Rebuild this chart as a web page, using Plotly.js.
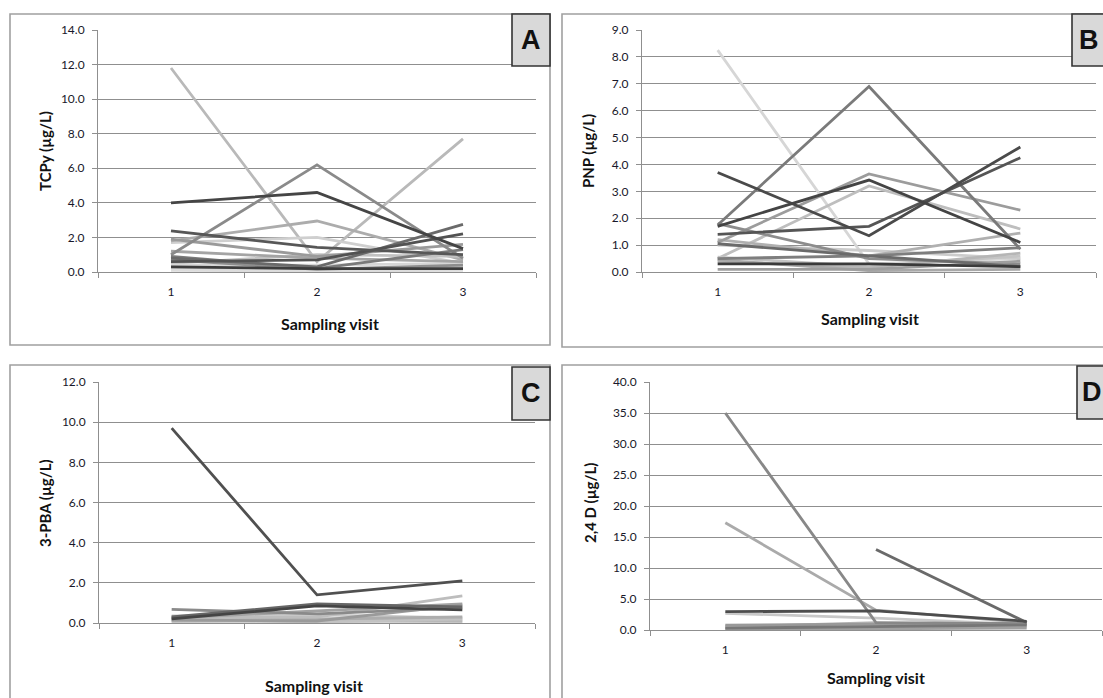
<!DOCTYPE html>
<html>
<head>
<meta charset="utf-8">
<script src="https://cdn.plot.ly/plotly-3.0.1.min.js"></script>
<style>
html,body{margin:0;padding:0;background:#fff;}
#chart{width:1103px;height:698px;}
</style>
</head>
<body>
<div id="chart"></div>
<script>
// ---------------- DATA ----------------
const visits = ['1', '2', '3'];

// Panel A: TCPy (µg/L), one row per participant (visit 1, 2, 3)
const tcpySeries = [
  [11.8, 0.6, 7.7],
  [1.7, 2.0, 0.5],
  [1.8, 2.95, 0.7],
  [0.5, 1.0, 0.9],
  [0.2, 0.1, 0.3],
  [0.1, 0.05, 0.1],
  [0.4, 0.4, 0.5],
  [1.2, 0.8, 0.6],
  [1.9, 0.9, 1.6],
  [1.0, 6.2, 0.8],
  [0.9, 0.2, 1.3],
  [0.7, 0.15, 0.4],
  [0.8, 0.3, 2.75],
  [0.6, 0.7, 2.2],
  [2.38, 1.42, 1.0],
  [0.3, 0.2, 0.2],
  [4.0, 4.6, 1.35]
];
const tcpyColors = ['#b9b9b9','#cfcfcf','#acacac','#c2c2c2','#d2d2d2','#dcdcdc','#d6d6d6','#a4a4a4','#9a9a9a',
                    '#8a8a8a','#7a7a7a','#8e8e8e','#6a6a6a','#525252','#575757','#3c3c3c','#454545'];

// Panel B: PNP (µg/L)
const pnpSeries = [
  [8.25, 0.3, 0.5],
  [0.5, 3.2, 1.6],
  [1.0, 0.8, 0.5],
  [0.55, 0.2, 0.6],
  [1.2, 0.6, 1.45],
  [0.4, 0.15, 0.7],
  [0.45, 0.05, 0.1],
  [1.1, 3.65, 2.3],
  [1.8, 0.5, 0.3],
  [0.1, 0.1, 0.4],
  [1.75, 6.9, 0.85],
  [0.5, 0.6, 0.9],
  [1.05, 0.6, 0.2],
  [0.3, 0.3, 0.2],
  [1.4, 1.7, 4.25],
  [3.7, 1.35, 4.65],
  [1.7, 3.42, 1.1]
];
const pnpColors = ['#d6d6d6','#bebebe','#cccccc','#c4c4c4','#b0b0b0','#b6b6b6','#a8a8a8','#9c9c9c','#8c8c8c',
                   '#9e9e9e','#7a7a7a','#7e7e7e','#6a6a6a','#3a3a3a','#555555','#4a4a4a','#444444'];

// Panel C: 3-PBA (µg/L)
const pbaSeries = [
  [0.05, 0.05, 0.05],
  [0.35, 0.4, 0.25],
  [0.1, 0.15, 0.1],
  [0.2, 0.05, 0.2],
  [0.3, 0.2, 0.3],
  [0.25, 0.3, 1.35],
  [0.25, 0.6, 0.95],
  [0.15, 0.1, 0.9],
  [0.68, 0.45, 0.75],
  [0.3, 0.95, 0.8],
  [0.2, 0.85, 0.65],
  [9.7, 1.4, 2.1]
];
const pbaColors = ['#d0d0d0','#cbcbcb','#b8b8b8','#c2c2c2','#adadad','#bdbdbd','#a2a2a2','#9a9a9a',
                   '#8a8a8a','#666666','#444444','#505050'];

// Panel D: 2,4 D (µg/L) — one participant has no visit-1 value
const dSeries = [
  [0.6, 0.4, 0.5],
  [2.7, 1.9, 0.9],
  [0.5, 1.2, 0.7],
  [0.1, 0.2, 0.3],
  [0.8, 0.9, 1.1],
  [17.3, 3.2, 1.2],
  [35.0, 1.2, 1.0],
  [0.3, 0.5, 0.8],
  [null, 13.0, 1.2],
  [2.95, 3.1, 1.4]
];
const dColors = ['#cccccc','#c8c8c8','#b5b5b5','#a0a0a0','#999999','#aaaaaa','#888888','#777777','#6a6a6a','#4d4d4d'];

const yTitles = ['TCPy (µg/L)', 'PNP (µg/L)', '3-PBA (µg/L)', '2,4 D (µg/L)'];
const xTitle = 'Sampling visit';
const panelLetters = ['A', 'B', 'C', 'D'];
const yMax = [14, 9, 12, 40];
const yStep = [2, 1, 2, 5];

// ---------------- LAYOUT HELPERS ----------------
const W = 1103, H = 698;
const px = v => v / W;
const py = v => 1 - v / H;

const panels = [
  {series: tcpySeries, colors: tcpyColors, xd: [98, 536], yd: [30, 272],
   box: [10, 14, 550, 345], lab: [512, 14, 550, 66], labX: 531, labY: 40,
   yt: [45, 151], xt: [330, 323]},
  {series: pnpSeries, colors: pnpColors, xd: [642, 1096], yd: [30, 272],
   box: [562, 14, 1120, 347], lab: [1072, 14, 1130, 66], labX: 1089, labY: 40,
   yt: [588, 151], xt: [870, 318]},
  {series: pbaSeries, colors: pbaColors, xd: [99, 535], yd: [382, 623],
   box: [10, 365, 550, 720], lab: [512, 367, 550, 420], labX: 531, labY: 393,
   yt: [45, 503], xt: [314, 685]},
  {series: dSeries, colors: dColors, xd: [650, 1102], yd: [382, 630],
   box: [562, 365, 1120, 720], lab: [1077, 366, 1130, 419], labX: 1092, labY: 392,
   yt: [590, 503], xt: [876, 677]}
];

const traces = [];
const layout = {
  width: W, height: H,
  margin: {l: 0, r: 0, t: 0, b: 0},
  paper_bgcolor: '#ffffff',
  plot_bgcolor: '#ffffff',
  showlegend: false,
  hovermode: false,
  font: {family: 'Lato, "Open Sans", sans-serif', color: '#1c1c2a'},
  shapes: [],
  annotations: []
};

const tickFont = {family: 'Lato, sans-serif', size: 12, color: '#18182a'};
const gridCol = '#8f8f8f';

panels.forEach((p, i) => {
  const n = i + 1;
  const xa = 'x' + (n === 1 ? '' : n);
  const ya = 'y' + (n === 1 ? '' : n);
  p.series.forEach((vals, k) => {
    traces.push({
      type: 'scatter', mode: 'lines',
      x: visits, y: vals,
      xaxis: xa, yaxis: ya,
      connectgaps: false,
      line: {color: p.colors[k], width: 2.8},
      hoverinfo: 'skip'
    });
  });
  layout['xaxis' + (n === 1 ? '' : n)] = {
    domain: [px(p.xd[0]), px(p.xd[1])],
    anchor: ya,
    type: 'category',
    range: [-0.5, 2.5],
    tickson: 'boundaries',
    ticks: 'outside', ticklen: 5, tickwidth: 1, tickcolor: gridCol,
    showline: true, linecolor: gridCol, linewidth: 1,
    showgrid: false, zeroline: false,
    tickfont: tickFont,
    ticklabelstandoff: 9,
    fixedrange: true
  };
  layout['yaxis' + (n === 1 ? '' : n)] = {
    domain: [py(p.yd[1]), py(p.yd[0])],
    anchor: xa,
    range: [0, yMax[i]],
    tickmode: 'linear', tick0: 0, dtick: yStep[i],
    tickformat: '.1f',
    ticks: 'outside', ticklen: 5, tickwidth: 1, tickcolor: gridCol,
    showline: true, linecolor: gridCol, linewidth: 1,
    showgrid: true, gridcolor: gridCol, gridwidth: 1,
    zeroline: false,
    tickfont: tickFont,
    ticklabelstandoff: 5,
    fixedrange: true
  };
  // panel frame
  layout.shapes.push({type: 'rect', xref: 'paper', yref: 'paper', layer: 'below',
    x0: px(p.box[0]), x1: px(p.box[2]), y0: py(p.box[3]), y1: py(p.box[1]),
    line: {color: '#a0a0a0', width: 1.6}, fillcolor: 'rgba(0,0,0,0)'});
  // letter box
  layout.shapes.push({type: 'rect', xref: 'paper', yref: 'paper', layer: 'above',
    x0: px(p.lab[0]), x1: px(p.lab[2]), y0: py(p.lab[3]), y1: py(p.lab[1]),
    line: {color: '#333333', width: 1.6}, fillcolor: '#d9d9d9'});
  layout.annotations.push({xref: 'paper', yref: 'paper', x: px(p.labX), y: py(p.labY),
    text: panelLetters[i], showarrow: false, xanchor: 'center', yanchor: 'middle',
    font: {family: '"Liberation Sans", Arial, sans-serif', size: 27, color: '#111111', weight: 'bold'}});
  // axis titles
  layout.annotations.push({xref: 'paper', yref: 'paper', x: px(p.yt[0]), y: py(p.yt[1]),
    text: '<b>' + yTitles[i] + '</b>', showarrow: false, textangle: -90,
    xanchor: 'center', yanchor: 'middle',
    font: {family: 'Lato, sans-serif', size: 15, color: '#111111'}});
  layout.annotations.push({xref: 'paper', yref: 'paper', x: px(p.xt[0]), y: py(p.xt[1]),
    text: '<b>' + xTitle + '</b>', showarrow: false,
    xanchor: 'center', yanchor: 'middle',
    font: {family: 'Lato, sans-serif', size: 16, color: '#111111'}});
});

Plotly.newPlot('chart', traces, layout, {staticPlot: true, displayModeBar: false});
</script>
</body>
</html>
